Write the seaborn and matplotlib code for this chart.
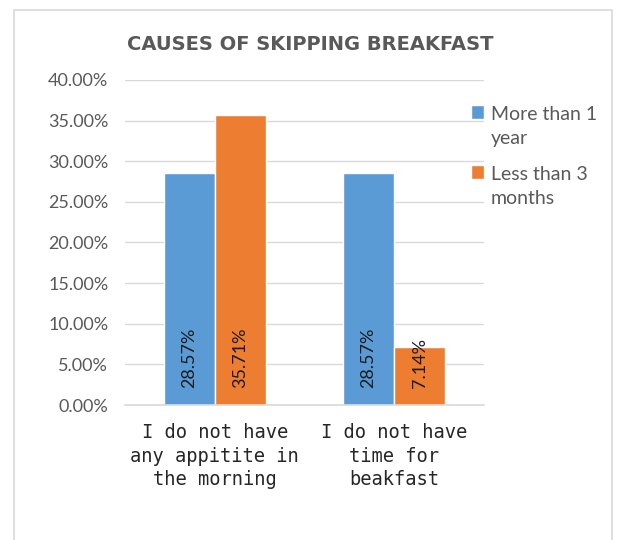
import matplotlib
matplotlib.use("Agg")
import matplotlib.pyplot as plt
from matplotlib.patches import Rectangle
from matplotlib.legend_handler import HandlerPatch
from matplotlib.ticker import PercentFormatter
import seaborn as sns
import pandas as pd

causes = ["I do not have\nany appitite in\nthe morning", "I do not have\ntime for\nbeakfast"]
series = ["More than 1\nyear", "Less than 3\nmonths"]
more_than_1_year = [28.57, 28.57]
less_than_3_months = [35.71, 7.14]
colors = ["#5B9BD5", "#ED7D31"]

df = pd.DataFrame({
    "cause": causes * 2,
    "group": [series[0]] * 2 + [series[1]] * 2,
    "value": more_than_1_year + less_than_3_months,
})

sns.set_style("white")
plt.rcParams["font.family"] = ["Lato", "DejaVu Sans"]

fig = plt.figure(figsize=(6.17, 5.40), dpi=100)
ax = fig.add_axes([0.2026, 0.25, 0.5818, 0.6019])

sns.barplot(data=df, x="cause", y="value", hue="group", palette=colors,
            width=0.57, gap=0, ax=ax, saturation=1)

ax.set_ylim(0, 40)
ax.set_yticks(range(0, 41, 5))
ax.yaxis.set_major_formatter(PercentFormatter(decimals=2))
ax.grid(axis="y", color="#d9d9d9", linewidth=1)
ax.set_axisbelow(True)
for s in ["top", "right", "left"]:
    ax.spines[s].set_visible(False)
ax.spines["bottom"].set_color("#d9d9d9")
ax.spines["bottom"].set_linewidth(1.2)
ax.tick_params(axis="y", labelsize=13, labelcolor="#595959", length=0, pad=12)
ax.tick_params(axis="x", labelsize=13.5, labelcolor="#262626", length=0, pad=13)
for lbl in ax.get_xticklabels():
    # wide, evenly spaced letters like the original
    lbl.set_family(["DejaVu Sans Mono"])
    lbl.set_linespacing(1.3)
ax.set_xlabel("")
ax.set_ylabel("")

for cont in ax.containers:
    for bar in cont:
        h = bar.get_height()
        ax.text(bar.get_x() + bar.get_width() / 2, 2.1, f"{h:.2f}%",
                rotation=90, ha="center", va="bottom", fontsize=13, color="#1a1a1a")


def top_square(legend, orig_handle, xdescent, ydescent, width, height, fontsize):
    # keep the colour square next to the first line of a two-line label
    return Rectangle((-xdescent, -ydescent + 0.75 * fontsize), width, height)


leg = ax.legend(loc="upper left", bbox_to_anchor=(0.941, 0.945), frameon=False,
                fontsize=14, labelcolor="#595959", handlelength=0.7, handleheight=0.7,
                handletextpad=0.35, labelspacing=1.0, borderaxespad=0,
                handler_map={Rectangle: HandlerPatch(patch_func=top_square)})
for t in leg.texts:
    t.set_linespacing(1.5)

fig.text(0.503, 0.917, "CAUSES OF SKIPPING BREAKFAST", ha="center", va="center",
         fontsize=14, fontweight="bold", color="#595959", family=["DejaVu Sans"])

fig.patches.append(Rectangle((0.0227, -0.01), 0.969, 0.991, transform=fig.transFigure,
                             fill=False, edgecolor="#d9d9d9", linewidth=1.2))

fig.savefig("out.png", dpi=100)
